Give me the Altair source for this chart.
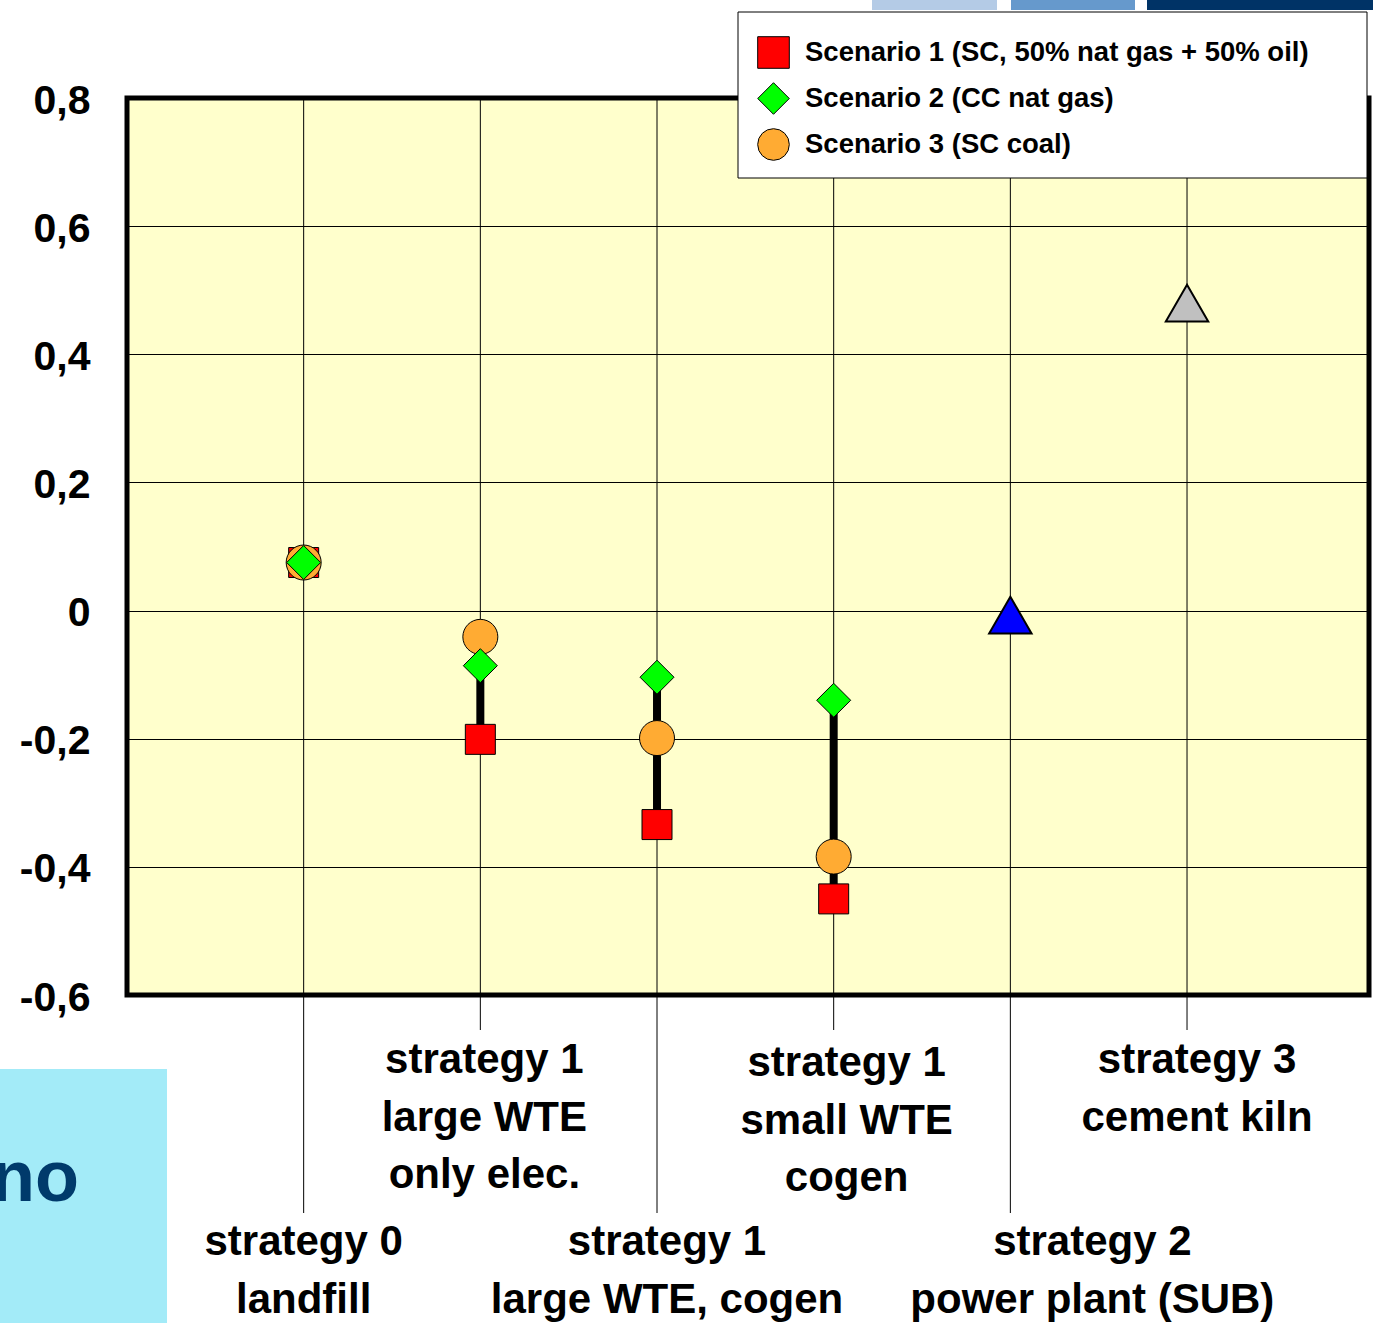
import altair as alt
import pandas as pd

FONT = "Liberation Sans"

# categories along the horizontal axis (multi-line labels)
strategies = [
    "strategy 0\nlandfill",
    "strategy 1\nlarge WTE\nonly elec.",
    "strategy 1\nlarge WTE, cogen",
    "strategy 1\nsmall WTE\ncogen",
    "strategy 2\npower plant (SUB)",
    "strategy 3\ncement kiln",
]

scenarios = [
    "Scenario 1 (SC, 50% nat gas + 50% oil)",
    "Scenario 2 (CC nat gas)",
    "Scenario 3 (SC coal)",
]

# results per scenario for strategy 0 and the three strategy-1 variants
scenario1_values = [0.075, -0.201, -0.334, -0.450]
scenario2_values = [0.075, -0.086, -0.104, -0.140]
scenario3_values = [0.075, -0.041, -0.199, -0.384]

# strategies with a single, scenario-independent result
single_strategies = ["strategy 2\npower plant (SUB)", "strategy 3\ncement kiln"]
single_values = [-0.007, 0.480]

y_ticks = [-0.6, -0.4, -0.2, 0, 0.2, 0.4, 0.6, 0.8]

# ---------------------------------------------------------------- tables
rows = []
for sc, vals in zip(scenarios, [scenario1_values, scenario2_values, scenario3_values]):
    for i, v in enumerate(vals):
        rows.append({"strategy": strategies[i], "pos": i + 1, "scenario": sc, "value": v})
scen_df = pd.DataFrame(rows)

single_df = pd.DataFrame({
    "strategy": single_strategies,
    "pos": [strategies.index(s) + 1 for s in single_strategies],
    "value": single_values,
})

cat_df = pd.DataFrame({"strategy": strategies, "pos": list(range(1, len(strategies) + 1))})
one = pd.DataFrame({"k": [0]})

# ---------------------------------------------------------------- styling
W, H = 1242, 897
PAD_L, PAD_T = 127, 98

SHAPES = {scenarios[0]: "square", scenarios[1]: "diamond", scenarios[2]: "circle"}
COLORS = {scenarios[0]: "#ff0000", scenarios[1]: "#00ff00", scenarios[2]: "#ffab33"}
SIZES = {scenarios[0]: 900, scenarios[1]: 1156, scenarios[2]: 1225}

x_enc = alt.X("pos:Q", scale=alt.Scale(domain=[0, 7.03], nice=False, zero=False), axis=None)
y_scale = alt.Scale(domain=[-0.6, 0.8], nice=False, zero=False)

legend = alt.Legend(
    title=None, orient="none", legendX=630, legendY=-62, padding=0,
    labelFont=FONT, labelFontSize=27.5, labelFontWeight="bold", labelColor="black",
    labelOffset=15, symbolSize=1000, symbolStrokeColor="black", symbolStrokeWidth=1,
    rowPadding=9, labelLimit=700,
)
color_enc = alt.Color("scenario:N", scale=alt.Scale(domain=scenarios, range=[COLORS[s] for s in scenarios]), legend=legend)
shape_enc = alt.Shape("scenario:N", scale=alt.Scale(domain=scenarios, range=[SHAPES[s] for s in scenarios]), legend=legend)

label_expr = ("datum.value == 0 ? '0' : (datum.value < 0 ? '-' : '') + "
              "replace(format(abs(datum.value), '.1f'), '.', ',')")

# ---------------------------------------------------------------- layers
# category lines, running from the plot top down between the staggered labels
long_lines = alt.Chart(cat_df).transform_filter("datum.pos % 2 == 1").mark_rule(
    color="black", strokeWidth=1).encode(x=x_enc, y=alt.value(0), y2=alt.value(1213 - PAD_T))
short_lines = alt.Chart(cat_df).transform_filter("datum.pos % 2 == 0").mark_rule(
    color="black", strokeWidth=1).encode(x=x_enc, y=alt.value(0), y2=alt.value(1030 - PAD_T))

# axis layer carrying the horizontal gridlines and the value labels
axis_layer = alt.Chart(scen_df).mark_point(opacity=0).encode(
    x=x_enc,
    y=alt.Y("value:Q", scale=y_scale, axis=alt.Axis(
        values=y_ticks, title=None, grid=True, gridColor="black", gridWidth=1, gridOpacity=1,
        domain=False, ticks=False, tickSize=0, labelFont=FONT, labelFontSize=41,
        labelFontWeight="bold", labelColor="black", labelPadding=37, labelOffset=3,
        labelExpr=label_expr)),
)

# spread between scenarios for each strategy
spread = alt.Chart(scen_df).transform_aggregate(
    lo="min(value)", hi="max(value)", groupby=["pos"]
).mark_rule(color="black", strokeWidth=8, strokeCap="butt").encode(
    x=x_enc, y=alt.Y("lo:Q", scale=y_scale), y2="hi:Q")

point_layers = []
for sc in [scenarios[0], scenarios[2], scenarios[1]]:
    point_layers.append(
        alt.Chart(scen_df).transform_filter(alt.datum.scenario == sc).mark_point(
            filled=True, opacity=1, size=SIZES[sc], stroke="black", strokeWidth=1
        ).encode(x=x_enc, y=alt.Y("value:Q", scale=y_scale), color=color_enc, shape=shape_enc)
    )

triangles = alt.Chart(single_df).mark_point(
    shape="triangle-up", filled=True, opacity=1, size=1800, stroke="black", strokeWidth=2
).encode(
    x=x_enc, y=alt.Y("value:Q", scale=y_scale),
    fill=alt.Fill("strategy:N", scale=alt.Scale(domain=single_strategies, range=["#0000ff", "#c0c0c0"]), legend=None),
)

# legend frame
legend_box = alt.Chart(one).mark_rect(fill="white", stroke="black", strokeWidth=1).encode(
    x=alt.value(738 - PAD_L), x2=alt.value(1367 - PAD_L), y=alt.value(12 - PAD_T), y2=alt.value(178 - PAD_T))

# slide decorations around the chart
top_bars = []
for x0, x1, col in zip([872, 1011, 1147], [997, 1135, 1373], ["#b4cbe6", "#6699cc", "#003366"]):
    top_bars.append(alt.Chart(one).mark_rect(fill=col).encode(
        x=alt.value(x0 - PAD_L), x2=alt.value(x1 - PAD_L), y=alt.value(0 - PAD_T), y2=alt.value(10 - PAD_T)))
side_box = alt.Chart(one).mark_rect(fill="#a3ebf8").encode(
    x=alt.value(0 - PAD_L), x2=alt.value(167 - PAD_L), y=alt.value(1069 - PAD_T), y2=alt.value(1323 - PAD_T))
side_text = alt.Chart(one).mark_text(
    text="no", font=FONT, fontSize=72, fontWeight="bold", color="#003a6b", align="right", baseline="alphabetic"
).encode(x=alt.value(79 - PAD_L), y=alt.value(1201 - PAD_T))

# staggered category labels
LABEL_BASE = {1: 1255, 2: 1073, 3: 1255, 4: 1076, 5: 1255, 6: 1073}
LABEL_NUDGE = {1: 0, 2: 4, 3: 10, 4: 13, 5: 82, 6: 10}
label_layers = []
for p in range(1, len(strategies) + 1):
    label_layers.append(
        alt.Chart(cat_df).transform_filter(alt.datum.pos == p).mark_text(
            font=FONT, fontSize=42, fontWeight="bold", color="black", align="center",
            baseline="alphabetic", lineBreak="\n", lineHeight=57.5, dx=LABEL_NUDGE[p]
        ).encode(x=x_enc, y=alt.value(LABEL_BASE[p] - PAD_T), text="strategy:N")
    )

chart = alt.layer(
    axis_layer, long_lines, short_lines, spread, *point_layers, triangles,
    *top_bars, legend_box, side_box, side_text, *label_layers,
).properties(
    width=W, height=H,
    autosize=alt.AutoSizeParams(type="none"),
    padding={"left": PAD_L, "top": PAD_T, "right": 1373 - PAD_L - W, "bottom": 1323 - PAD_T - H},
    background="white",
).configure_view(
    fill="#ffffcc", stroke="black", strokeWidth=5
)

chart.save("out.html", embed_options={"renderer": "svg", "actions": False})
